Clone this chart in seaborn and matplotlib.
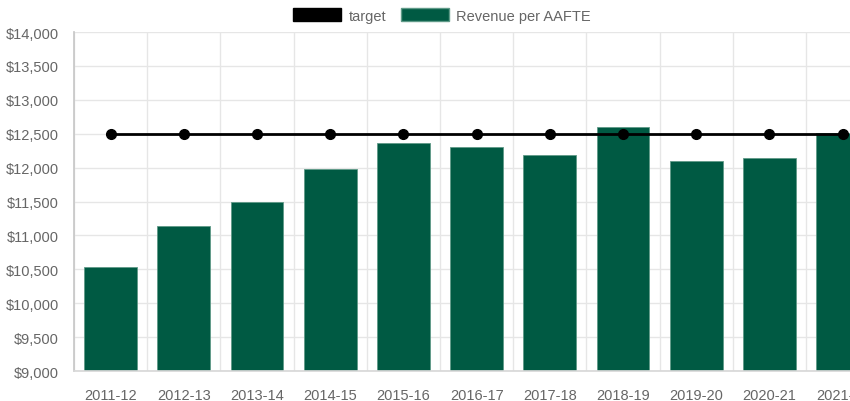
import numpy as np
import pandas as pd
import matplotlib
matplotlib.use("Agg")
import matplotlib.pyplot as plt
from matplotlib.patches import Patch
from matplotlib.ticker import FuncFormatter, MultipleLocator, FixedLocator
import seaborn as sns

# chart data
years = ["2011-12", "2012-13", "2013-14", "2014-15", "2015-16", "2016-17",
         "2017-18", "2018-19", "2019-20", "2020-21", "2021-22"]
revenue = [10530, 11145, 11490, 11975, 12358, 12304, 12191, 12594, 12093, 12147, 12515]
target = [12500] * len(years)

df = pd.DataFrame({"year": years, "revenue": revenue, "target": target})

sns.set_theme(style="white")
plt.rcParams["font.family"] = ["Liberation Sans", "DejaVu Sans"]

green = "#005a43"
grid_col = "#e6e6e6"
text_col = "#666666"

fig = plt.figure(figsize=(8.5, 4.02), dpi=100)
ax = fig.add_axes([74 / 850, 1 - 372 / 402, 1 - 74 / 850, (372 - 33) / 402])

sns.barplot(data=df, x="year", y="revenue", color=green, saturation=1, width=0.72,
            edgecolor="#5f9a88", linewidth=0.6, ax=ax, zorder=2)
ax.plot(np.arange(len(years)), df["target"], color="black", lw=2,
        marker="o", markersize=7, zorder=3, clip_on=False)

ax.set_ylim(9000, 14000)
ax.set_xlim(-0.5, 10.1)
ax.yaxis.set_major_locator(MultipleLocator(500))
ax.yaxis.set_major_formatter(FuncFormatter(lambda v, p: f"${v:,.0f}"))
ax.xaxis.set_minor_locator(FixedLocator(np.arange(-0.5, 11, 1)))

ax.grid(True, axis="y", color=grid_col, lw=1, zorder=0)
ax.grid(True, axis="x", which="minor", color=grid_col, lw=1, zorder=0)
ax.set_axisbelow(True)

ax.tick_params(axis="x", which="major", length=0, pad=12, labelsize=10.5, labelcolor=text_col)
ax.tick_params(axis="x", which="minor", length=9, color=grid_col, width=1)
ax.tick_params(axis="y", length=8, color=grid_col, width=1, pad=3,
               labelsize=10.5, labelcolor=text_col)

for s in ["top", "right"]:
    ax.spines[s].set_visible(False)
ax.spines["left"].set_color("#c8c8c8")
ax.spines["bottom"].set_color("#d8d8d8")
ax.set_xlabel("")
ax.set_ylabel("")

handles = [Patch(facecolor="black", edgecolor="black", label="target"),
           Patch(facecolor=green, edgecolor="#5f9a88", label="Revenue per AAFTE")]
fig.legend(handles=handles, loc="upper center", bbox_to_anchor=(0.52, 1.01), ncol=2,
           frameon=False, fontsize=10.5, labelcolor=text_col, handlelength=3.3,
           handleheight=1.0, handletextpad=0.5, columnspacing=1.0)

fig.savefig("out.png", dpi=100)
